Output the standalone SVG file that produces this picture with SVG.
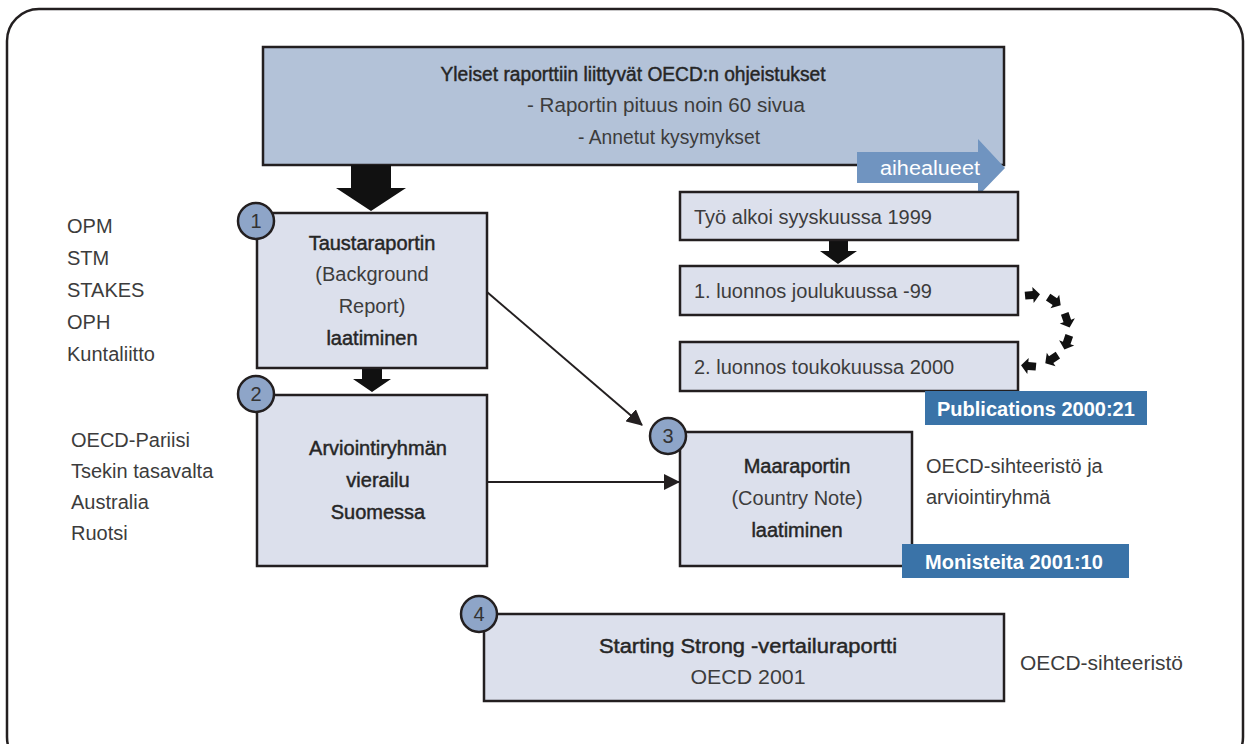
<svg xmlns="http://www.w3.org/2000/svg" width="1250" height="744" viewBox="0 0 1250 744">
<style>
text{font-family:"Liberation Sans",Arial,sans-serif;fill:#3c3c3c;font-size:20px}
.c{text-anchor:middle}
.m{fill:#262626;stroke:#262626;stroke-width:0.45}
.box{fill:#DCE0EC;stroke:#231F20;stroke-width:2.5}
.num{fill:#8EA5C8;stroke:#231F20;stroke-width:2.5}
.nt{font-size:20px;text-anchor:middle;fill:#333}
.lab{fill:#3A73A8}
.lt{fill:#fff;font-size:20px;font-weight:bold}
.con{stroke:#231F20;stroke-width:2;fill:none}
</style>
<defs>
<marker id="ah2" markerWidth="16" markerHeight="16" refX="15" refY="8" orient="auto" markerUnits="userSpaceOnUse" viewBox="0 0 16 16">
<path d="M0,0 L16,8 L0,16 Z" fill="#231F20"/>
</marker>
<path id="sa" d="M-7,-4 L1,-4 L1,-8 L8,0 L1,8 L1,4 L-7,4 Z" fill="#111"/>
</defs>
<rect x="7" y="9" width="1236" height="760" rx="32" fill="#fff" stroke="#231F20" stroke-width="2.5"/>

<g id="top">
<rect x="263" y="47" width="741" height="118" fill="#B3C2D8" stroke="#231F20" stroke-width="2.5"/>
<text class="c m" x="633" y="81" textLength="385" lengthAdjust="spacingAndGlyphs">Yleiset raporttiin liittyvät OECD:n ohjeistukset</text>
<text class="c" x="666" y="112" textLength="278" lengthAdjust="spacingAndGlyphs">- Raportin pituus noin 60 sivua</text>
<text class="c" x="669" y="144" textLength="182" lengthAdjust="spacingAndGlyphs">- Annetut kysymykset</text>
</g>
<g id="aihealueet">
<path d="M857,152 L978,152 L978,139 L1005,168 L978,196 L978,183 L857,183 Z" fill="#7094C0"/>
<text x="930" y="175" class="c" style="fill:#fff" textLength="100" lengthAdjust="spacingAndGlyphs">aihealueet</text>
</g>

<g id="connectors">
<path d="M351,165 L391,165 L391,188 L406,188 L371,211 L336,188 L351,188 Z" fill="#111"/>
<path d="M362,368 L382,368 L382,379 L391,379 L372,392 L353,379 L362,379 Z" fill="#111"/>
<path d="M829,240 L848,240 L848,251 L857,251 L838,264 L820,251 L829,251 Z" fill="#111"/>
<line class="con" x1="487" y1="292" x2="642" y2="425" marker-end="url(#ah2)"/>
<line class="con" x1="487" y1="482" x2="679" y2="482" marker-end="url(#ah2)"/>
<use href="#sa" transform="translate(1032,295) rotate(-5)"/>
<use href="#sa" transform="translate(1054,301) rotate(33)"/>
<use href="#sa" transform="translate(1067,320) rotate(71)"/>
<use href="#sa" transform="translate(1067,342) rotate(109)"/>
<use href="#sa" transform="translate(1052,359) rotate(147)"/>
<use href="#sa" transform="translate(1029,366) rotate(185)"/>
</g>

<g id="node1">
<rect class="box" x="257" y="213" width="230" height="155"/>
<circle class="num" cx="256" cy="221" r="18"/>
<text class="nt" x="256" y="228">1</text>
<text class="c m" x="372" y="250">Taustaraportin</text>
<text class="c" x="372" y="281">(Background</text>
<text class="c" x="372" y="313">Report)</text>
<text class="c m" x="372" y="345">laatiminen</text>
</g>
<g id="node2">
<rect class="box" x="257" y="395" width="230" height="171"/>
<circle class="num" cx="256" cy="394" r="18"/>
<text class="nt" x="256" y="401">2</text>
<text class="c m" x="378" y="455">Arviointiryhmän</text>
<text class="c m" x="378" y="487">vierailu</text>
<text class="c m" x="378" y="519">Suomessa</text>
</g>
<g id="node3">
<rect class="box" x="680" y="432" width="232" height="134"/>
<circle class="num" cx="668" cy="436" r="18"/>
<text class="nt" x="668" y="443">3</text>
<text class="c m" x="797" y="473">Maaraportin</text>
<text class="c" x="797" y="505">(Country Note)</text>
<text class="c m" x="797" y="537">laatiminen</text>
</g>
<g id="node4">
<rect class="box" x="484" y="614" width="520" height="87"/>
<circle class="num" cx="479" cy="614" r="18"/>
<text class="nt" x="479" y="621">4</text>
<text class="c m" x="748" y="653" textLength="298" lengthAdjust="spacingAndGlyphs">Starting Strong -vertailuraportti</text>
<text class="c" x="748" y="684" textLength="115" lengthAdjust="spacingAndGlyphs">OECD 2001</text>
</g>
<g id="step1">
<rect class="box" x="680" y="192" width="338" height="48"/>
<text x="694" y="224">Työ alkoi syyskuussa 1999</text>
</g>
<g id="step2">
<rect class="box" x="680" y="266" width="338" height="49"/>
<text x="694" y="298">1. luonnos joulukuussa -99</text>
</g>
<g id="step3">
<rect class="box" x="680" y="342" width="338" height="49"/>
<text x="694" y="374">2. luonnos toukokuussa 2000</text>
</g>
<g id="pub">
<rect class="lab" x="925" y="391" width="222" height="34"/>
<text class="lt" x="937" y="416">Publications 2000:21</text>
</g>
<g id="mon">
<rect class="lab" x="902" y="544" width="227" height="34"/>
<text class="lt" x="925" y="569">Monisteita 2001:10</text>
</g>
<g id="left1">
<text x="67" y="233">OPM</text>
<text x="67" y="265">STM</text>
<text x="67" y="297">STAKES</text>
<text x="67" y="329">OPH</text>
<text x="67" y="361">Kuntaliitto</text>
</g>
<g id="left2">
<text x="71" y="447">OECD-Pariisi</text>
<text x="71" y="478">Tsekin tasavalta</text>
<text x="71" y="509">Australia</text>
<text x="71" y="540">Ruotsi</text>
</g>
<g id="right">
<text x="926" y="473">OECD-sihteeristö ja</text>
<text x="926" y="504">arviointiryhmä</text>
<text x="1020" y="670" textLength="163" lengthAdjust="spacingAndGlyphs">OECD-sihteeristö</text>
</g>
</svg>
